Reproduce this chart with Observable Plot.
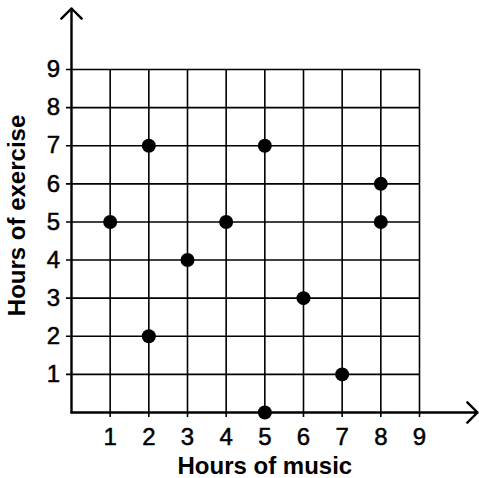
<!DOCTYPE html>
<html>
<head>
<meta charset="utf-8">
<script src="https://cdn.jsdelivr.net/npm/d3@7"></script>
<script src="https://cdn.jsdelivr.net/npm/@observablehq/plot@0.6"></script>
<style>
  html, body { margin: 0; padding: 0; background: #fff; }
  svg { display: block; }
</style>
</head>
<body>
<div id="chart"></div>
<script>
// Data
const musicHours    = [1, 2, 2, 3, 4, 5, 5, 6, 7, 8, 8];
const exerciseHours = [5, 7, 2, 4, 5, 7, 0, 3, 1, 6, 5];
const xTicks = [1, 2, 3, 4, 5, 6, 7, 8, 9];
const yTicks = [1, 2, 3, 4, 5, 6, 7, 8, 9];
const xTitle = "Hours of music";
const yTitle = "Hours of exercise";

const points = musicHours.map((m, i) => ({music: m, exercise: exerciseHours[i]}));

const gridMax = 9;
const tickExt = -0.13;   // grid lines poke slightly past the axes
const xArrowEnd = 10.5;
const yArrowEnd = 10.6;
const font = "'Liberation Sans', Arial, Helvetica, sans-serif";

const chart = Plot.plot({
  width: 479,
  height: 478,
  marginTop: 0, marginRight: 0, marginBottom: 0, marginLeft: 0,
  style: {fontFamily: font, background: "#fff", overflow: "visible"},
  x: {domain: [0, gridMax], range: [71, 419], axis: null},
  y: {domain: [0, gridMax], range: [412, 69], axis: null},
  marks: [
    // grid
    Plot.ruleX(xTicks, {x: d => d, y1: tickExt, y2: gridMax, stroke: "#000", strokeWidth: 1.6}),
    Plot.ruleY(yTicks, {y: d => d, x1: tickExt, x2: gridMax, stroke: "#000", strokeWidth: 1.6}),
    // axes with arrows
    Plot.arrow([{x1: 0, y1: 0, x2: xArrowEnd, y2: 0}], {
      x1: "x1", y1: "y1", x2: "x2", y2: "y2",
      stroke: "#000", strokeWidth: 2.4, headLength: 9, headAngle: 90, bend: 0
    }),
    Plot.arrow([{x1: 0, y1: 0, x2: 0, y2: yArrowEnd}], {
      x1: "x1", y1: "y1", x2: "x2", y2: "y2",
      stroke: "#000", strokeWidth: 2.4, headLength: 9, headAngle: 90, bend: 0
    }),
    // tick labels
    Plot.text(xTicks, {x: d => d, y: 0, dy: 25, text: d => String(d), fontSize: 24, fill: "#000", stroke: "#000", strokeWidth: 0.5, textAnchor: "middle"}),
    Plot.text(yTicks, {x: 0, y: d => d, dx: -18, text: d => String(d), fontSize: 24, fill: "#000", stroke: "#000", strokeWidth: 0.5, textAnchor: "middle"}),
    // axis titles
    Plot.text([xTitle], {x: 5, y: 0, dy: 54, text: d => d, fontSize: 24, fontWeight: "bold", fill: "#000"}),
    Plot.text([yTitle], {x: 0, y: 5.17, dx: -54, text: d => d, fontSize: 24, fontWeight: "bold", fill: "#000", rotate: -90}),
    // points
    Plot.dot(points, {x: "music", y: "exercise", r: 7, fill: "#000", stroke: "none"})
  ]
});
document.getElementById("chart").appendChild(chart);
</script>
</body>
</html>
